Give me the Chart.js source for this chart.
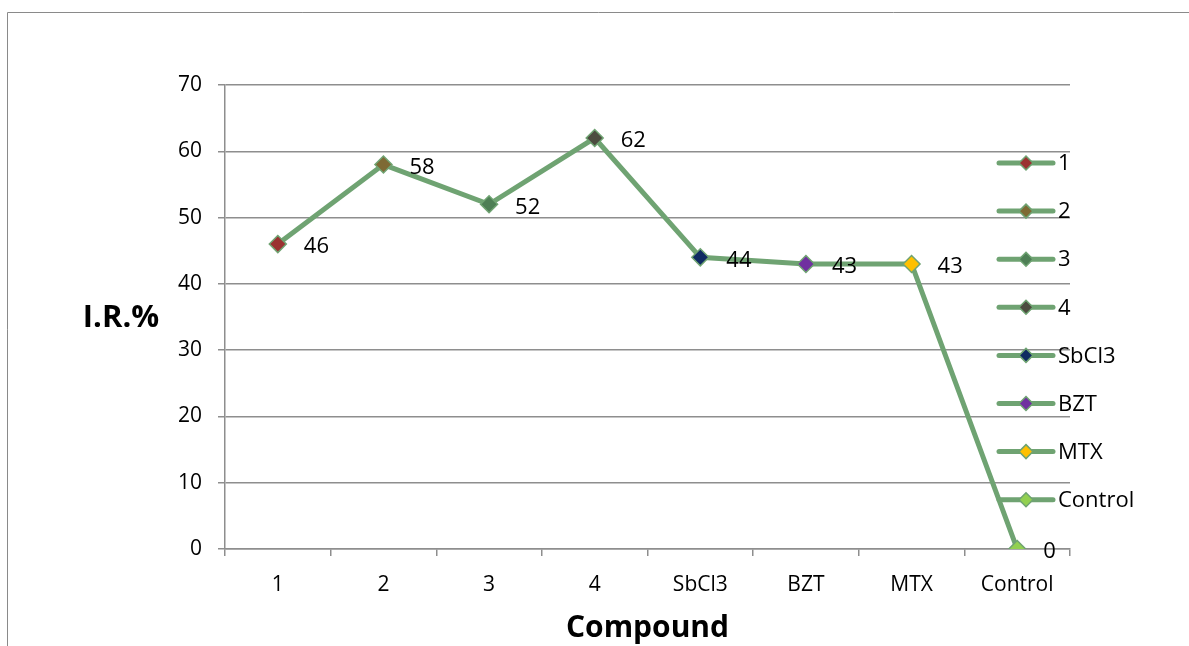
<!DOCTYPE html>
<html>
<head>
<meta charset="utf-8">
<script src="https://cdn.jsdelivr.net/npm/chart.js@4/dist/chart.umd.min.js"></script>
<style>
html,body{margin:0;padding:0;background:#fff;}
#wrap{width:1189px;height:646px;position:relative;}
</style>
</head>
<body>
<div id="wrap"><canvas id="c" width="1189" height="646"></canvas></div>
<script>
const categories = ['1','2','3','4','SbCl3','BZT','MTX','Control'];
const irValues = [46,58,52,62,44,43,43,0];
const markerColors = ['#9B3131','#7E6A34','#4E7F55','#4C4C3F','#0F2A62','#7030A0','#FFC000','#92D050'];
const yTicks = [0,10,20,30,40,50,60,70];
const yTitle = 'I.R.%';
const xTitle = 'Compound';

const FONT = '"Open Sans", "Liberation Sans", sans-serif';
const LINE = '#6FA372';
const GRID = '#8e8e8e';

const framePlugin = {
  id: 'frame',
  beforeDraw(chart) {
    const ctx = chart.ctx;
    ctx.save();
    ctx.fillStyle = '#fff';
    ctx.fillRect(0, 0, chart.width, chart.height);
    ctx.strokeStyle = '#8a8a8a';
    ctx.lineWidth = 1;
    ctx.beginPath();
    ctx.moveTo(7.5, 646);
    ctx.lineTo(7.5, 12.5);
    ctx.lineTo(1189, 12.5);
    ctx.stroke();
    ctx.restore();
  }
};

const extrasPlugin = {
  id: 'extras',
  afterDraw(chart) {
    const ctx = chart.ctx;
    const meta = chart.getDatasetMeta(0);
    ctx.save();
    ctx.fillStyle = '#000';
    ctx.font = '22px ' + FONT;
    ctx.textAlign = 'left';
    ctx.textBaseline = 'middle';
    meta.data.forEach((pt, i) => {
      ctx.fillText(String(irValues[i]), pt.x + 26, pt.y + 3);
    });
    ctx.font = 'bold 31px ' + FONT;
    ctx.textAlign = 'center';
    ctx.fillText(yTitle, 121, 318);
    ctx.font = 'bold 30px ' + FONT;
    ctx.fillText(xTitle, (chart.chartArea.left + chart.chartArea.right) / 2, 628);
    const lx0 = 999, lx1 = 1053, cx = 1026;
    categories.forEach((cat, i) => {
      const y = 163 + i * 48.1;
      ctx.strokeStyle = LINE;
      ctx.lineWidth = 5;
      ctx.lineCap = 'round';
      ctx.beginPath();
      ctx.moveTo(lx0, y);
      ctx.lineTo(lx1, y);
      ctx.stroke();
      const r = 7;
      ctx.beginPath();
      ctx.moveTo(cx - r, y);
      ctx.lineTo(cx, y - r);
      ctx.lineTo(cx + r, y);
      ctx.lineTo(cx, y + r);
      ctx.closePath();
      ctx.fillStyle = markerColors[i];
      ctx.fill();
      ctx.lineWidth = 1.5;
      ctx.strokeStyle = LINE;
      ctx.stroke();
      ctx.fillStyle = '#000';
      ctx.font = '22px ' + FONT;
      ctx.textAlign = 'left';
      ctx.textBaseline = 'middle';
      ctx.fillText(cat, 1058, y + 1);
    });
    ctx.restore();
  }
};

new Chart(document.getElementById('c'), {
  type: 'line',
  data: {
    labels: categories,
    datasets: [{
      label: 'I.R.%',
      data: irValues,
      borderColor: LINE,
      borderWidth: 5,
      tension: 0,
      pointStyle: 'rectRot',
      pointRadius: 8.5,
      pointHoverRadius: 8.5,
      pointBorderWidth: 1.5,
      pointBorderColor: LINE,
      pointBackgroundColor: markerColors
    }]
  },
  options: {
    responsive: false,
    animation: false,
    events: [],
    layout: { padding: { left: 0, top: 85, right: 119, bottom: 0 } },
    plugins: { legend: { display: false }, tooltip: { enabled: false } },
    scales: {
      x: {
        type: 'category',
        offset: true,
        grid: { display: true, offset: true, drawOnChartArea: false, drawTicks: true, tickLength: 7, color: GRID, lineWidth: 1.5 },
        border: { display: true, color: GRID, width: 1.5 },
        ticks: { color: '#000', font: { family: FONT, size: 21 }, padding: 16, maxRotation: 0, autoSkip: false },
        afterFit(scale) { scale.height = 97; }
      },
      y: {
        min: 0, max: 70,
        afterBuildTicks(scale) { scale.ticks = yTicks.map(v => ({ value: v })); },
        grid: { color: GRID, lineWidth: 1.5, tickLength: 7 },
        border: { display: true, color: GRID, width: 1.5 },
        ticks: { color: '#000', font: { family: FONT, size: 21 }, padding: 16 },
        afterFit(scale) { scale.width = 225; }
      }
    }
  },
  plugins: [framePlugin, extrasPlugin]
});
</script>
</body>
</html>
